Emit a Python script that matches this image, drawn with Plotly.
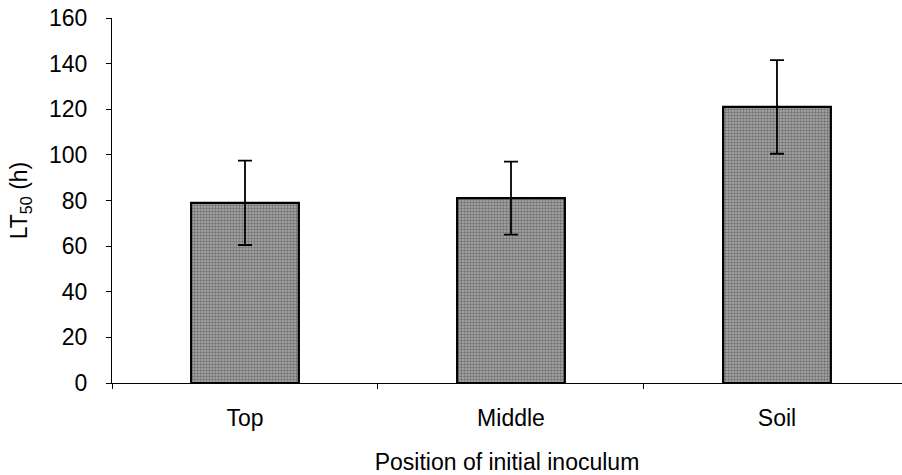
import plotly.graph_objects as go

# LT50 by position of initial inoculum
positions = ["Top", "Middle", "Soil"]
lt50 = [79, 81, 121]
lt50_err = [18.5, 16, 20.5]

fig = go.Figure()
fig.add_trace(go.Bar(
    x=positions,
    y=lt50,
    width=0.405,
    marker=dict(
        color="#969696",
        line=dict(color="black", width=2.2),
        pattern=dict(shape=".", fgcolor="#383838", bgcolor="#ababab",
                     size=3, solidity=0.5, fillmode="overlay"),
    ),
    error_y=dict(type="data", array=lt50_err, visible=True,
                 color="black", thickness=1.8, width=7),
))

font = dict(family="Liberation Sans, Arial, sans-serif", size=23, color="black")

fig.update_layout(
    width=902, height=475,
    margin=dict(l=112, r=0, t=18, b=92),
    plot_bgcolor="white", paper_bgcolor="white",
    showlegend=False,
    font=font,
    xaxis=dict(
        type="category",
        range=[-0.5, 2.47],
        showline=True, linecolor="black", linewidth=1,
        ticks="outside", tickson="boundaries", ticklen=5, tickcolor="black",
        showgrid=False, zeroline=False,
        tickfont=font, ticklabelstandoff=14,
        title=dict(text="Position of initial inoculum", font=font, standoff=24),
    ),
    yaxis=dict(
        range=[0, 160], dtick=20,
        showline=True, linecolor="black", linewidth=1,
        ticks="outside", ticklen=5, tickcolor="black",
        showgrid=False, zeroline=False,
        tickfont=font, ticklabelstandoff=14,
        title=dict(text="LT<sub>50</sub> (h)", font=font, standoff=14),
    ),
)

fig.write_html("out.html")
